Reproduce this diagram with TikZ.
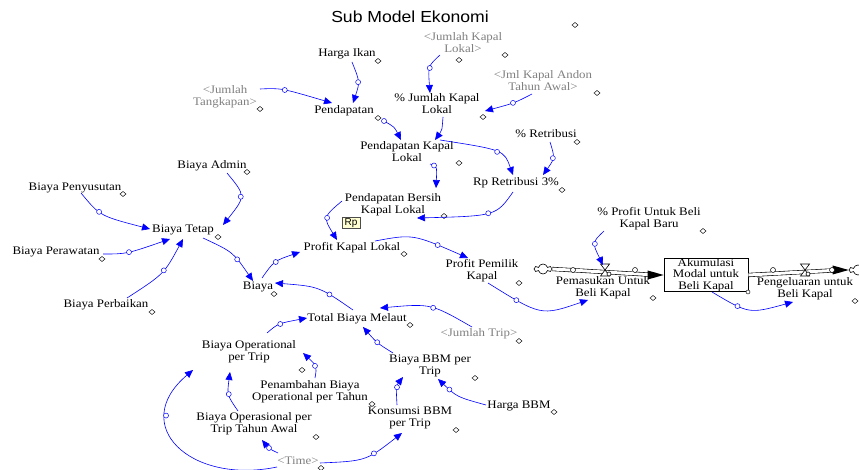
\documentclass[tikz,border=0pt]{standalone}
\usepackage{fontspec}
\usetikzlibrary{arrows.meta,shapes.symbols}
\newfontfamily\vfont[FakeStretch=1.12]{Liberation Serif}
\newfontfamily\tfont[FakeStretch=1.1]{Liberation Sans}
\newfontfamily\rpfont{Liberation Sans}
\definecolor{linkblue}{RGB}{0,0,255}
\definecolor{shadowgray}{RGB}{128,128,128}
\definecolor{rpfill}{RGB}{255,255,210}
\tikzset{
  var/.style={font={\vfont\fontsize{11.5}{12}\selectfont}, align=center, inner sep=0pt, text=black},
  shadow/.style={var, text=shadowgray},
  conn/.style={draw=linkblue, line width=0.6pt, -{Triangle[length=8pt,width=7pt]}},
  hnd/.style={circle, draw=linkblue, fill=white, inner sep=0pt, minimum size=5pt, line width=0.5pt},
  dmd/.style={draw=black, line width=0.45pt, fill=white},
  stockbox/.style={var, draw=black, line width=0.7pt, minimum width=84pt, minimum height=32pt, font={\vfont\fontsize{11.5}{11.5}\selectfont}},
  rpbox/.style={draw=black!70, fill=rpfill, line width=0.5pt, inner sep=1pt, minimum width=18pt, minimum height=10pt, font={\rpfont\fontsize{10}{10}\selectfont}},
  cloudy/.style={cloud, cloud puffs=6, draw=black, line width=0.6pt, fill=white, minimum width=17pt, minimum height=10pt, inner sep=0pt},
  pipe/.style={draw=black, double=white, double distance=3pt, line width=0.6pt},
  pipehnd/.style={circle, draw=black, fill=white, inner sep=0pt, minimum size=5pt, line width=0.5pt},
  valveline/.style={draw=black, fill=white, line width=0.6pt}
}
\begin{document}
\begin{tikzpicture}[x=1pt,y=-1pt]
\useasboundingbox (0,0) rectangle (859,470);
\fill[white] (0,0) rectangle (859,470);

% title
\node[font={\tfont\fontsize{16}{16}\selectfont}] (title) at (410,17) {Sub Model Ekonomi};

% variables
\node[var] (hi) at (347,54) {Harga Ikan};
\node[shadow] (jkl) at (463,43) {<Jumlah Kapal\\Lokal>};
\node[shadow] (jka) at (543,81) {<Jml Kapal Andon\\Tahun Awal>};
\node[shadow] (jt) at (225,97) {<Jumlah\\Tangkapan>};
\node[var] (pd) at (344,111) {Pendapatan};
\node[var] (pjk) at (437,104) {\% Jumlah Kapal\\Lokal};
\node[var] (pr) at (546,134) {\% Retribusi};
\node[var] (pkl) at (407,152) {Pendapatan Kapal\\Lokal};
\node[var] (rr) at (516,183) {Rp Retribusi 3\%};
\node[var] (pbk) at (393,205) {Pendapatan Bersih\\Kapal Lokal};
\node[rpbox] (rp) at (351,223) {Rp};
\node[var] (pfk) at (352,248) {Profit Kapal Lokal};
\node[var] (ppk) at (482,271) {Profit Pemilik\\Kapal};
\node[var] (ba) at (212,166) {Biaya Admin};
\node[var] (bpy) at (75,188) {Biaya Penyusutan};
\node[var] (bt) at (183,230) {Biaya Tetap};
\node[var] (bpw) at (56,252) {Biaya Perawatan};
\node[var] (bpb) at (106,305) {Biaya Perbaikan};
\node[var] (b) at (258,287) {Biaya};
\node[var] (ppb) at (649,219) {\% Profit Untuk Beli\\Kapal Baru};
\node[var] (tbm) at (357,319) {Total Biaya Melaut};
\node[shadow] (jtr) at (479,334) {<Jumlah Trip>};
\node[var] (bop) at (249,352) {Biaya Operational\\per Trip};
\node[var] (bbm) at (430,366) {Biaya BBM per\\Trip};
\node[var] (pbo) at (310,392) {Penambahan Biaya\\Operational per Tahun};
\node[var] (hbbm) at (519,406) {Harga BBM};
\node[var] (kbbm) at (410,418) {Konsumsi BBM\\per Trip};
\node[var] (bot) at (254,424) {Biaya Operasional per\\Trip Tahun Awal};
\node[shadow] (time) at (298,461) {<Time>};

% stock and flows
\node[cloudy] (cl) at (543,269) {};
\node[cloudy] (cr) at (858,270) {};
\node[stockbox] (stock) at (706,275) {Akumulasi\\Modal untuk\\Beli Kapal};
\coordinate (v1) at (605,270);
\coordinate (v2) at (805,270);
\draw[pipe] (cl.east) -- ([xshift=-8]stock.west);
\fill[black] (stock.west) -- ++(-16,-4.5) -- ++(0,9) -- cycle;
\draw[pipe] (stock.east) -- ([xshift=-8]cr.west);
\fill[black] (cr.west) -- ++(-16,-4.5) -- ++(0,9) -- cycle;
\node[pipehnd] (h1) at (573,270) {};
\node[pipehnd] (h2) at (635,270) {};
\node[pipehnd] (h3) at (773,270) {};
\node[pipehnd] (h4) at (832,270) {};
\draw[valveline] ([shift={(-4.5,-6)}]v1) -- ++(9,0) -- ++(-9,12) -- ++(9,0) -- cycle;
\draw[valveline] ([shift={(4,4)}]v1) circle (2);
\draw[valveline] ([shift={(-4.5,-6)}]v2) -- ++(9,0) -- ++(-9,12) -- ++(9,0) -- cycle;
\draw[valveline] ([shift={(3,4)}]v2) circle (2);
\node[var] (pub) at (603,288) {Pemasukan Untuk\\Beli Kapal};
\node[var] (peb) at (805,289) {Pengeluaran untuk\\Beli Kapal};

% little markers
\foreach \px/\py in {575/25,378/61,459/60,505/55,597/93,260/109,378/118,483/117,577/142,459/163,562/190,444/216,404/254,519/283,247/172,123/194,218/237,102/259,152/312,274/294,653/298,703/231,855/301,410/325,519/341,302/370,475/378,372/404,554/412,456/430,316/437,321/468}
  \draw[dmd] (\px-3,\py) -- (\px,\py-2.5) -- (\px+3,\py) -- (\px,\py+2.5) -- cycle;
\draw[dmd] (748,292) circle (2);

% connectors
\draw[conn] ([shift={(5,8)}]hi.center) .. controls (360,82) .. ([shift={(9,-8)}]pd.center) node[hnd,pos=.5]{};
\draw[conn] ([shift={(35,-8)}]jt.center) .. controls (281,88) .. ([shift={(-12,-8)}]pd.center) node[hnd,pos=.5]{};
\draw[conn] ([shift={(-23,12)}]jkl.center) .. controls (428,66) .. ([shift={(-7,-11)}]pjk.center) node[hnd,pos=.5]{};
\draw[conn] ([shift={(-11,13)}]jka.center) .. controls (514.5,103) .. ([shift={(48,7)}]pjk.center) node[hnd,pos=.5]{};
\draw[conn] ([shift={(40,10)}]pd.center) .. controls (394.5,127) .. ([shift={(-6,-12)}]pkl.center) node[hnd,pos=0]{};
\draw[conn] ([shift={(6,13)}]pjk.center) .. controls (442,130.5) .. ([shift={(28,-12)}]pkl.center);
\draw[conn] ([shift={(33,-12)}]pkl.center) .. controls (504,150) .. ([shift={(-3,-8)}]rr.center) node[hnd,pos=.5]{};
\draw[conn] ([shift={(4,8)}]pr.center) .. controls (555,158) .. ([shift={(27,-8)}]rr.center) node[hnd,pos=.5]{};
\draw[conn] ([shift={(-3,9)}]rr.center) .. controls (496,216) .. ([shift={(24,13)}]pbk.center) node[hnd,pos=.5]{};
\draw[conn] ([shift={(23,12)}]pkl.center) .. controls (437,166) .. ([shift={(43,-17)}]pbk.center) node[hnd,pos=.25]{};
\draw[conn] ([shift={(-51,-4)}]pbk.center) .. controls (323,217) .. ([shift={(-15,-8)}]pfk.center) node[hnd,pos=.5]{};
\draw[conn] ([shift={(23,-7)}]pfk.center) .. controls (413,234) .. ([shift={(-14,-13)}]ppk.center) node[hnd,pos=.77]{};
\draw[conn] ([shift={(6,12)}]ppk.center) .. controls (541,316) .. ([shift={(-15,12)}]pub.center) node[hnd,pos=.22]{};
\draw[conn] ([shift={(-45,12)}]ppb.center) .. controls (592,242.5) .. ([shift={(-2,-5)}]v1) node[hnd,pos=.5]{};
\draw[conn] ([shift={(6,17)}]stock.center) .. controls (749,314) .. ([shift={(-12,13)}]peb.center) node[hnd,pos=.3]{};
\draw[conn] ([shift={(15,7)}]ba.center) .. controls (246,196) .. ([shift={(40,-5)}]bt.center) node[hnd,pos=.5]{};
\draw[conn] ([shift={(6,5)}]bpy.center) .. controls (100,216) .. ([shift={(-33,-1)}]bt.center) node[hnd,pos=.4]{};
\draw[conn] ([shift={(47,2)}]bpw.center) .. controls (126.5,254) .. ([shift={(-13,9)}]bt.center) node[hnd,pos=.5]{};
\draw[conn] ([shift={(21,-7)}]bpb.center) .. controls (164,274) .. ([shift={(0,9)}]bt.center) node[hnd,pos=.55]{};
\draw[conn] ([shift={(20,8)}]bt.center) .. controls (233,252) .. ([shift={(-5,-6)}]b.center) node[hnd,pos=.65]{};
\draw[conn] ([shift={(4,-9)}]b.center) .. controls (274,261) .. ([shift={(-52,4)}]pfk.center) node[hnd,pos=.5]{};
\draw[conn] ([shift={(-4,-9)}]tbm.center) .. controls (319,286.5) .. ([shift={(17,-4)}]b.center) node[hnd,pos=.3]{};
\draw[conn] ([shift={(-7,-7)}]jtr.center) .. controls (431,303.5) .. ([shift={(23,-11)}]tbm.center) node[hnd,pos=.45]{};
\draw[conn] ([shift={(-37,-13)}]bbm.center) .. controls (377,343) .. ([shift={(6,8)}]tbm.center) node[hnd,pos=.5]{};
\draw[conn] ([shift={(18,-19)}]bop.center) .. controls (278,323.5) .. ([shift={(-50,-1)}]tbm.center) node[hnd,pos=.5]{};
\draw[conn] ([shift={(5,-14)}]pbo.center) .. controls (317,366) .. ([shift={(54,1)}]bop.center) node[hnd,pos=.5]{};
\draw[conn] ([shift={(-16,-13)}]bot.center) .. controls (227,395) .. ([shift={(-19,20)}]bop.center) node[hnd,pos=.5]{};
\draw[conn] ([shift={(-20,-8)}]time.center) .. controls (268.7,448.5) .. ([shift={(8,16)}]bot.center) node[hnd,pos=.5]{};
\draw[conn] ([shift={(-21,6)}]time.center) .. controls (190,485) and (128,425) .. ([shift={(-56,18)}]bop.center) node[hnd,pos=.72]{};
\draw[conn] ([shift={(22,2)}]time.center) .. controls (366,461) .. ([shift={(-8,15)}]kbbm.center) node[hnd,pos=.65]{};
\draw[conn] ([shift={(-13,-13)}]kbbm.center) .. controls (396,386) .. ([shift={(-27,11)}]bbm.center) node[hnd,pos=.5]{};
\draw[conn] ([shift={(-33,-1)}]hbbm.center) .. controls (457,397) .. ([shift={(8,13)}]bbm.center) node[hnd,pos=.75]{};
\end{tikzpicture}
\end{document}
